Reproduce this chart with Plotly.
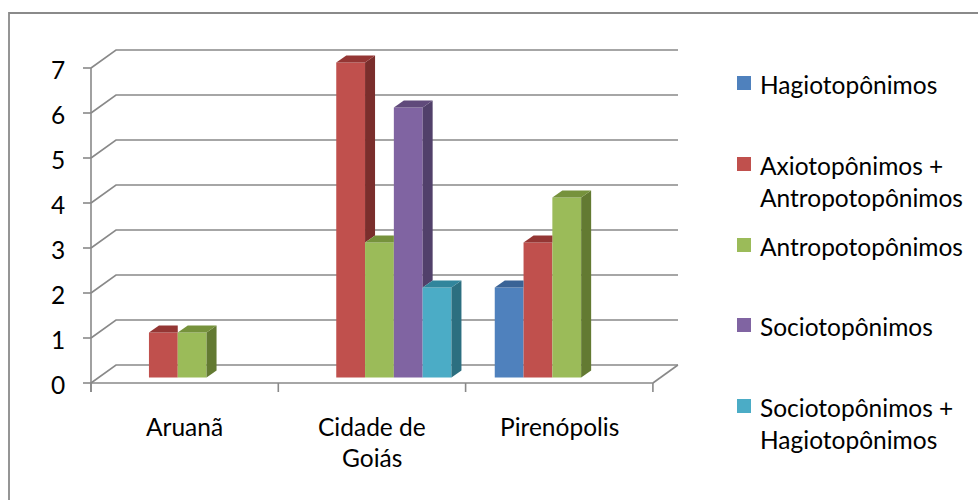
import plotly.graph_objects as go

# ---------------- data ----------------
categories = ["Aruanã", "Cidade de<br>Goiás", "Pirenópolis"]
category_lines = [["Aruanã"], ["Cidade de", "Goiás"], ["Pirenópolis"]]
series_names = ["Hagiotopônimos", "Axiotopônimos + Antropotopônimos", "Antropotopônimos",
                "Sociotopônimos", "Sociotopônimos + Hagiotopônimos"]
legend_lines = [["Hagiotopônimos"], ["Axiotopônimos +", "Antropotopônimos"], ["Antropotopônimos"],
                ["Sociotopônimos"], ["Sociotopônimos +", "Hagiotopônimos"]]
hagio = [None, None, 2]
axio_antropo = [1, 7, 3]
antropo = [1, 3, 4]
socio = [None, 6, None]
socio_hagio = [None, 2, None]
series_values = [hagio, axio_antropo, antropo, socio, socio_hagio]
y_ticks = [0, 1, 2, 3, 4, 5, 6, 7]

front_colors = ["#4F81BD", "#C0504D", "#9BBB59", "#8064A2", "#4BACC6"]
top_colors = ["#3A6396", "#943634", "#76923C", "#604A7B", "#31859C"]
side_colors = ["#30517C", "#7A2E2C", "#637A32", "#51406A", "#2C6F80"]

# ---------------- pixel geometry helpers ----------------
W_PX, H_PX = 978, 500
PX_PER_CAT = 187.3
PX_PER_VAL = 45.0
X0_PX, Y0_PX = 91.0, 383.0


def X(px):
    return -0.5 + (px - X0_PX) / PX_PER_CAT


def Y(py):
    return (Y0_PX - py) / PX_PER_VAL


WALL_DX, WALL_DY = 25 / PX_PER_CAT, 18 / PX_PER_VAL
BAR_DX, BAR_DY = 7.5 / PX_PER_CAT, 5.5 / PX_PER_VAL
DEP_DX, DEP_DY = 10 / PX_PER_CAT, 7 / PX_PER_VAL
BAR_W = 28.8 / PX_PER_CAT
n_series = len(series_values)

GRID = "#898989"
FONT = dict(family="Lato, 'Open Sans', sans-serif", size=24.5, color="#000000")

fig = go.Figure()
shapes = []
annotations = []

# outer border
shapes.append(dict(type="rect", xref="x", yref="y", x0=X(9), x1=X(990), y0=Y(13), y1=Y(520),
                   line=dict(color="#8a8a8a", width=1.8), layer="below"))

# back-wall gridlines with left wall diagonal
x_left = X(X0_PX)
x_right_back = X(678)
for v in y_ticks:
    shapes.append(dict(type="path", xref="x", yref="y", layer="below",
                       path=f"M {x_left},{v} L {x_left + WALL_DX},{v + WALL_DY} L {x_right_back},{v + WALL_DY}",
                       line=dict(color=GRID, width=1.6)))
    # tick marks
    shapes.append(dict(type="line", xref="x", yref="y", layer="below",
                       x0=X(83), x1=x_left, y0=v, y1=v, line=dict(color=GRID, width=1.6)))
    annotations.append(dict(xref="x", yref="y", x=X(67), y=v, text=str(v), showarrow=False,
                            xanchor="right", yanchor="middle", font=FONT, yshift=-1))

# value axis line
shapes.append(dict(type="line", xref="x", yref="y", layer="below", x0=x_left, x1=x_left,
                   y0=Y(392), y1=max(y_ticks), line=dict(color=GRID, width=1.6)))
# floor front edge and right edge
n_cat = len(categories)
x_floor_right = n_cat - 0.5
shapes.append(dict(type="line", xref="x", yref="y", layer="below", x0=x_left, x1=x_floor_right,
                   y0=0, y1=0, line=dict(color=GRID, width=1.6)))
shapes.append(dict(type="line", xref="x", yref="y", layer="below", x0=x_floor_right,
                   x1=x_floor_right + WALL_DX, y0=0, y1=WALL_DY, line=dict(color=GRID, width=1.6)))
# category ticks
for k in range(n_cat + 1):
    shapes.append(dict(type="line", xref="x", yref="y", layer="below", x0=k - 0.5, x1=k - 0.5,
                       y0=Y(392), y1=0, line=dict(color=GRID, width=1.6)))

# category labels
for c, lines in enumerate(category_lines):
    for j, line in enumerate(lines):
        annotations.append(dict(xref="x", yref="y", x=c, y=Y(426 + 31 * j), text=line,
                                showarrow=False, xanchor="center", yanchor="middle", font=FONT))


def bar_left(c, i):
    return c + BAR_DX - (n_series / 2) * BAR_W + i * BAR_W


# front faces as bars
for i, vals in enumerate(series_values):
    xs = [bar_left(c, i) + BAR_W / 2 for c in range(n_cat)]
    fig.add_trace(go.Bar(x=xs, y=vals, base=BAR_DY, width=BAR_W, name=series_names[i],
                         marker=dict(color=front_colors[i], line=dict(width=0)),
                         showlegend=False, hoverinfo="skip"))

# 3D top and side faces
for c in range(n_cat):
    for i in range(n_series):
        v = series_values[i][c]
        if not v:
            continue
        v_next = series_values[i + 1][c] if i + 1 < n_series else None
        v_next = v_next or 0
        xl = bar_left(c, i)
        xr = xl + BAR_W
        b = BAR_DY
        # side face (visible part above the next bar)
        if v_next < v:
            vb = v_next
            fig.add_trace(go.Scatter(
                x=[xr, xr, xr + DEP_DX, xr + DEP_DX, xr],
                y=[vb + b, v + b, v + b + DEP_DY, vb + b + DEP_DY, vb + b],
                fill="toself", fillcolor=side_colors[i], mode="lines", line=dict(width=0),
                showlegend=False, hoverinfo="skip"))
            tx = [xl, xr, xr + DEP_DX, xl + DEP_DX, xl]
            ty = [v + b, v + b, v + b + DEP_DY, v + b + DEP_DY, v + b]
        else:
            tx = [xl, xr, xr, xl + DEP_DX, xl]
            ty = [v + b, v + b, v + b + DEP_DY, v + b + DEP_DY, v + b]
        fig.add_trace(go.Scatter(x=tx, y=ty, fill="toself", fillcolor=top_colors[i], mode="lines",
                                 line=dict(width=0), showlegend=False, hoverinfo="skip"))

# manual legend
legend_centers = [83, 164, 245, 325, 406]
for i, lines in enumerate(legend_lines):
    cy = legend_centers[i]
    shapes.append(dict(type="rect", xref="x", yref="y", x0=X(737), x1=X(751), y0=Y(cy + 7),
                       y1=Y(cy - 7), fillcolor=front_colors[i], line=dict(width=0)))
    for j, line in enumerate(lines):
        annotations.append(dict(xref="x", yref="y", x=X(758), y=Y(cy + 1 + 32 * j), text=line,
                                showarrow=False, xanchor="left", yanchor="middle", font=FONT))

fig.update_layout(
    width=W_PX, height=H_PX,
    margin=dict(l=0, r=0, t=0, b=0),
    paper_bgcolor="white", plot_bgcolor="white",
    barmode="overlay",
    xaxis=dict(range=[X(0), X(W_PX)], visible=False, fixedrange=True),
    yaxis=dict(range=[Y(H_PX), Y(0)], visible=False, fixedrange=True),
    shapes=shapes, annotations=annotations,
    showlegend=False,
)

fig.write_html("out.html")
